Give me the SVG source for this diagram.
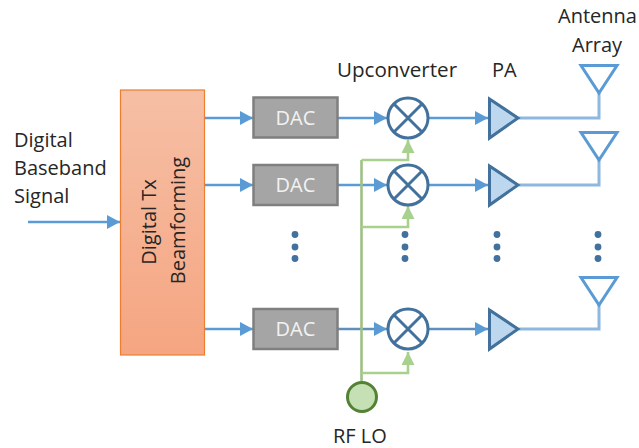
<svg xmlns="http://www.w3.org/2000/svg" width="639" height="448" viewBox="0 0 639 448">
<style>
text{font-family:"Open Sans","Noto Sans","Liberation Sans",sans-serif;font-size:20px;fill:#262626}
.dac rect{fill:#a5a5a5;stroke:#7f7f7f;stroke-width:2.5}
.dac text{fill:#f2f2f2;text-anchor:middle}
.mix circle{fill:#fff;stroke:#41719c;stroke-width:3}
.mix path{fill:none;stroke:#41719c;stroke-width:3}
.pa path{fill:#bdd7ee;stroke:#41719c;stroke-width:3;stroke-linejoin:miter}
.ant path{fill:#fff;stroke:#5b9bd5;stroke-width:3}
.w{fill:none;stroke:#5b9bd5;stroke-width:2.5}
.o{fill:none;stroke:#8fb8e0;stroke-width:3}
.g{fill:none;stroke:#a9d18e;stroke-width:2.6}
.d{fill:#41719c}
</style>
<defs>
<linearGradient id="or" x1="0" y1="0" x2="0" y2="1"><stop offset="0" stop-color="#f6bfa5"/><stop offset="1" stop-color="#f5a581"/></linearGradient>
<marker id="b" markerUnits="userSpaceOnUse" markerWidth="13" markerHeight="14" refX="13" refY="7" orient="auto"><path d="M0 0L13 7L0 14Z" fill="#5b9bd5"/></marker>
<marker id="gm" markerUnits="userSpaceOnUse" markerWidth="13" markerHeight="13" refX="13" refY="6.5" orient="auto"><path d="M0 0L13 6.500L0 13Z" fill="#a9d18e"/></marker>
</defs>
<g id="connectors">
<path class="w" d="M28 222H120" marker-end="url(#b)"/>
<path class="w" d="M205 118H253" marker-end="url(#b)"/>
<path class="w" d="M205 185H253" marker-end="url(#b)"/>
<path class="w" d="M205 329H253" marker-end="url(#b)"/>
<path class="w" d="M337 118H387" marker-end="url(#b)"/>
<path class="w" d="M337 185H387" marker-end="url(#b)"/>
<path class="w" style="stroke:#5f8fbd" d="M337 329H387" marker-end="url(#b)"/>
<path class="w" d="M429 118H488" marker-end="url(#b)"/>
<path class="w" d="M429 185H488" marker-end="url(#b)"/>
<path class="w" style="stroke:#5f8fbd" d="M429 329H488" marker-end="url(#b)"/>
<path class="o" d="M519 118H599V93"/>
<path class="o" d="M519 185H599V160"/>
<path class="o" d="M519 329H599V305"/>
<path class="g" style="stroke:#9dc186" d="M361.500 381V160"/>
<path class="g" d="M361.500 160H408V140" marker-end="url(#gm)"/>
<path class="g" d="M361.500 227H408V206" marker-end="url(#gm)"/>
<path class="g" d="M361.500 373H408V352" marker-end="url(#gm)"/>
</g>
<g id="labels">
<text x="14" y="147">Digital</text>
<text x="14" y="175">Baseband</text>
<text x="14" y="203">Signal</text>
<text x="337" y="77" style="font-size:20.600px">Upconverter</text>
<text x="492" y="77">PA</text>
<text x="558" y="23">Antenna</text>
<text x="572" y="52">Array</text>
<text x="333" y="443">RF LO</text>
</g>
<g id="beamforming">
<rect x="120.500" y="90" width="84" height="265" fill="url(#or)" stroke="#ed7d31" stroke-width="1.200"/>
<text transform="translate(156 222) rotate(-90)" text-anchor="middle">Digital Tx</text>
<text transform="translate(185 220.500) rotate(-90)" text-anchor="middle">Beamforming</text>
</g>
<g id="dac1" class="dac"><rect x="253.500" y="97.500" width="84" height="40"/><text x="295.500" y="125">DAC</text></g>
<g id="dac2" class="dac"><rect x="253.500" y="165" width="84" height="40"/><text x="295.500" y="192">DAC</text></g>
<g id="dac3" class="dac"><rect x="253.500" y="309" width="84" height="40"/><text x="295.500" y="336">DAC</text></g>
<g id="mixer1" class="mix"><circle cx="408" cy="118" r="20"/><path d="M394 104L422 132M422 104L394 132"/></g>
<g id="mixer2" class="mix"><circle cx="408" cy="185" r="20"/><path d="M394 171L422 199M422 171L394 199"/></g>
<g id="mixer3" class="mix"><circle cx="408" cy="329" r="20"/><path d="M394 315L422 343M422 315L394 343"/></g>
<g id="pa1" class="pa"><path d="M489.500 99L518 118L489.500 138Z"/></g>
<g id="pa2" class="pa"><path d="M489.500 166L518 185L489.500 205Z"/></g>
<g id="pa3" class="pa"><path d="M489.500 310L518 329L489.500 349Z"/></g>
<g id="antenna1" class="ant"><path d="M581 65.500H617L599 93Z"/></g>
<g id="antenna2" class="ant"><path d="M581 132.500H617L599 160Z"/></g>
<g id="antenna3" class="ant"><path d="M581 277.500H617L599 305Z"/></g>
<g id="lo"><circle cx="362" cy="397" r="14.500" fill="#c5e0b4" stroke="#548235" stroke-width="3"/></g>
<g id="dots">
<circle class="d" cx="295" cy="234.500" r="3.400"/><circle class="d" cx="295" cy="247" r="3.400"/><circle class="d" cx="295" cy="258.500" r="3.400"/>
<circle class="d" cx="405" cy="234.500" r="3.400"/><circle class="d" cx="405" cy="247" r="3.400"/><circle class="d" cx="405" cy="258.500" r="3.400"/>
<circle class="d" cx="497" cy="234.500" r="3.400"/><circle class="d" cx="497" cy="247" r="3.400"/><circle class="d" cx="497" cy="258.500" r="3.400"/>
<circle class="d" cx="598" cy="234.500" r="3.400"/><circle class="d" cx="598" cy="247" r="3.400"/><circle class="d" cx="598" cy="258.500" r="3.400"/>
</g>
</svg>
